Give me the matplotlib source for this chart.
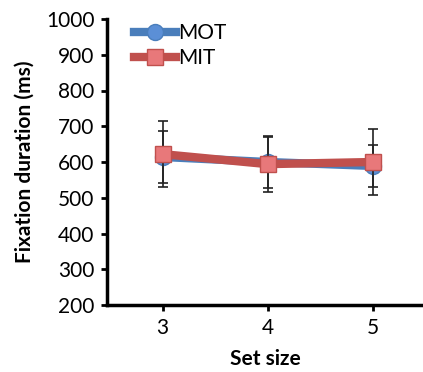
import numpy as np
import matplotlib.pyplot as plt
from matplotlib.lines import Line2D

plt.rcParams['font.family'] = ['Lato', 'DejaVu Sans']

set_size = [3, 4, 5]
mot = [614, 600, 589]
mot_err = [73, 73, 58]
mit = [622, 594, 600]
mit_err = [92, 77, 92]

fig = plt.figure(figsize=(4.23, 3.72), dpi=100)
ax = fig.add_axes([107/423, 67/372, 316/423, 286/372])

ax.errorbar(set_size, mot, yerr=mot_err, color='#4a7ebb', lw=6, marker='o', ms=11.5,
            mfc='#5b8fd6', mec='#4a7ebb', ecolor='#222222', elinewidth=1.2,
            capsize=3.5, capthick=1.2, zorder=2)
ax.errorbar(set_size, mit, yerr=mit_err, color='#c0504d', lw=6, marker='s', ms=11.5,
            mfc='#e8787a', mec='#c0504d', ecolor='#222222', elinewidth=1.2,
            capsize=3.5, capthick=1.2, zorder=3)

ax.set_xlim(2.47, 5.48)
ax.set_ylim(200, 1000)
ax.set_xticks(set_size)
ax.set_yticks(np.arange(200, 1001, 100))
ax.tick_params(labelsize=15, width=2, length=4, pad=5)
ax.spines['top'].set_visible(False)
ax.spines['right'].set_visible(False)
ax.spines['left'].set_linewidth(2.5)
ax.spines['bottom'].set_linewidth(2.5)
ax.set_xlabel('Set size', fontsize=15, fontweight='bold', labelpad=8)
ax.set_ylabel('Fixation duration (ms)', fontsize=15, fontweight='bold', labelpad=8)

handles = [Line2D([], [], color='#4a7ebb', lw=6, marker='o', ms=11.5,
                  mfc='#5b8fd6', mec='#4a7ebb'),
           Line2D([], [], color='#c0504d', lw=6, marker='s', ms=11.5,
                  mfc='#e8787a', mec='#c0504d')]
ax.legend(handles, ['MOT', 'MIT'], loc='upper left', frameon=False, fontsize=15,
          handlelength=2.0, handletextpad=0.1, borderaxespad=0.0, labelspacing=0.25,
          bbox_to_anchor=(0.06, 1.015))

fig.savefig('out.png', dpi=100)
